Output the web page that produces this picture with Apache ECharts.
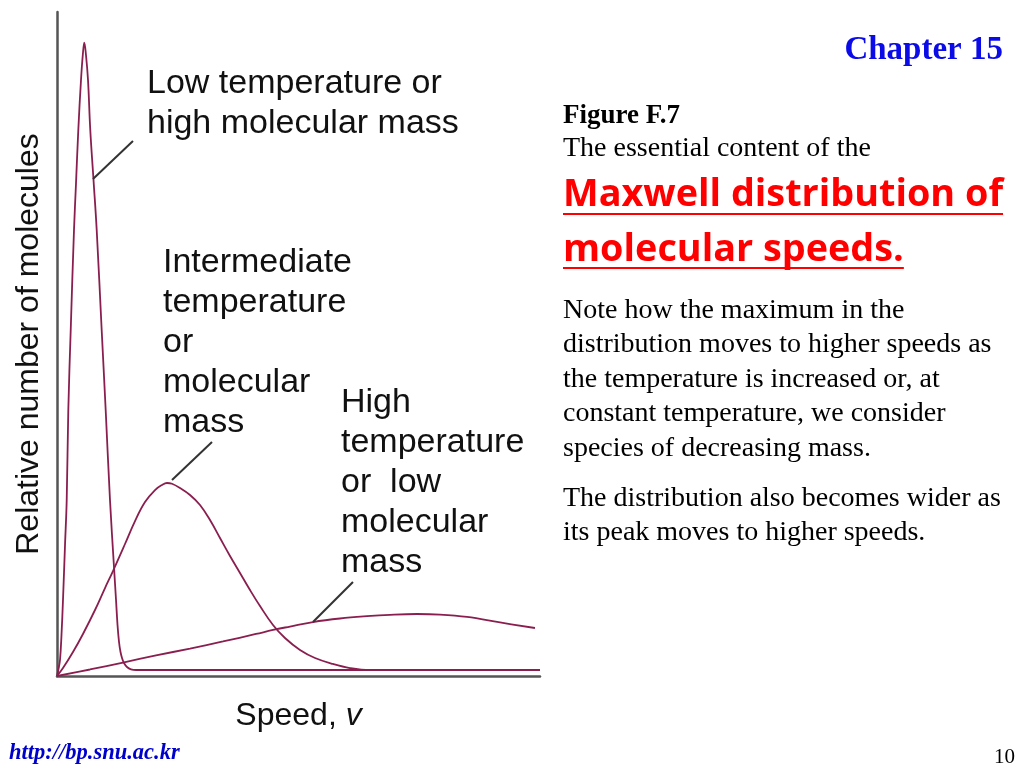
<!DOCTYPE html>
<html>
<head>
<meta charset="utf-8">
<script src="https://cdn.jsdelivr.net/npm/echarts@6/dist/echarts.min.js"></script>
<style>
html,body{margin:0;padding:0;background:#fff;}
#chart{width:1024px;height:768px;}
</style>
</head>
<body>
<div id="chart"></div>
<script>
// Speed (0-100 arbitrary units) vs relative number of molecules (0-100 arbitrary units)
const lowTempCurve = [
  [0,0],[0.31,1.05],[0.62,2.41],[0.93,6.17],[1.24,11.45],[1.66,19.73],[2.01,26.51],
  [2.34,40.06],[2.84,52.11],[3.52,67.17],[3.93,74.10],[4.41,82.23],[4.97,89.76],
  [5.34,93.52],[5.65,95.38],[6.00,93.52],[6.42,89.76],[6.89,82.23],[7.56,74.70],
  [8.22,67.17],[9.25,52.11],[10.08,40.06],[10.97,26.51],[11.80,16.42],[12.22,11.45],
  [12.53,7.68],[12.84,5.12],[13.15,3.61],[13.46,2.71],[13.87,1.96],[14.49,1.36],
  [15.32,1.01],[16.36,0.9],[23.40,0.9],[39.96,0.9],[100,0.9]
];
const midTempCurve = [
  [0,0],[1.24,1.20],[3.31,3.61],[5.38,6.33],[7.87,9.94],[9.94,13.25],[11.59,15.81],
  [14.08,19.88],[16.15,23.34],[18.22,26.20],[20.29,28.01],[21.74,28.77],[22.77,29.07],
  [23.81,28.95],[25.47,28.31],[27.54,27.26],[29.61,25.75],[31.68,23.49],[33.75,20.78],
  [35.82,18.07],[37.89,15.51],[39.96,12.95],[42.03,10.54],[44.72,7.68],[47.20,5.72],
  [50.31,3.92],[53.42,2.71],[57.14,1.81],[60.66,1.20],[64.80,0.9],[71.01,0.9],[100,0.9]
];
const highTempCurve = [
  [0,0],[6.83,0.98],[13.66,2.03],[20.50,3.09],[27.54,4.14],[34.37,5.20],[41.20,6.33],
  [44.72,6.93],[48.24,7.45],[53.00,8.13],[58.59,8.66],[64.18,9.01],[68.94,9.22],
  [74.53,9.34],[79.30,9.25],[84.89,8.89],[91.72,8.06],[98.96,7.23]
];
const lowLeader = [[7.45,74.85],[15.73,80.57]];
const midLeader = [[23.81,29.52],[32.09,35.24]];
const highLeader = [[53.0,8.13],[61.28,14.16]];

const lowLabel = ['Low temperature or','high molecular mass'];
const midLabel = ['Intermediate','temperature','or','molecular','mass'];
const highLabel = ['High','temperature','or  low','molecular','mass'];
const yAxisTitle = 'Relative number of molecules';
const chapterText = 'Chapter 15';
const figureTitle = 'Figure F.7';
const introText = 'The essential content of the';
const redTitle = ['Maxwell distribution of','molecular speeds.'];
const noteParagraph = ['Note how the maximum in the','distribution moves to higher speeds as','the temperature is increased or, at','constant temperature, we consider','species of decreasing mass.'];
const noteParagraph2 = ['The distribution also becomes wider as','its peak moves to higher speeds.'];
const footerUrl = 'http://bp.snu.ac.kr';
const pageNumber = '10';

const curveColor = '#8a1f4f';
const sansFont = '"Liberation Sans", Arial, sans-serif';
const serifFont = '"Liberation Serif", "Times New Roman", serif';
const redFamily = '"Open Sans", Lato, sans-serif';

function measure(text, font){
  const c = document.createElement('canvas').getContext('2d');
  c.font = font; return c.measureText(text).width;
}
// fit the red heading to the width it takes in the slide
const redSize = Math.min(40, 36 * 440 / measure(redTitle[0], 'bold 36px ' + redFamily));
const redFont = 'bold ' + redSize.toFixed(1) + 'px ' + redFamily;
const red1W = measure(redTitle[0], redFont);
const red2W = measure(redTitle[1], redFont);

function leader(pts){
  return {
    symbol:['none','none'], silent:true, animation:false,
    lineStyle:{color:'#333', width:2, type:'solid'},
    label:{show:false},
    data:[[{coord:pts[0]},{coord:pts[1]}]]
  };
}
function curve(name, data, lead){
  return {
    name, type:'line', data, smooth:0.4, showSymbol:false,
    lineStyle:{color:curveColor, width:1.8}, itemStyle:{color:curveColor},
    markLine: leader(lead)
  };
}

const chart = echarts.init(document.getElementById('chart'));
chart.setOption({
  animation:false,
  backgroundColor:'#fff',
  grid:{left:57, right:484, top:12, bottom:92},
  xAxis:{
    type:'value', min:0, max:100,
    axisLine:{show:true, lineStyle:{color:'#555', width:2.5}},
    axisTick:{show:false}, axisLabel:{show:false}, splitLine:{show:false},
    name:'{a|Speed, }{b|v}', nameLocation:'middle', nameGap:24,
    nameTextStyle:{
      rich:{
        a:{fontFamily:sansFont, fontSize:32, color:'#111'},
        b:{fontFamily:sansFont, fontSize:32, fontStyle:'italic', color:'#111'}
      }
    }
  },
  yAxis:{
    type:'value', min:0, max:100,
    axisLine:{show:true, lineStyle:{color:'#555', width:2.5}},
    axisTick:{show:false}, axisLabel:{show:false}, splitLine:{show:false},
    name:yAxisTitle, nameLocation:'middle', nameGap:12,
    nameTextStyle:{fontFamily:sansFont, fontSize:32, color:'#111'}
  },
  series:[
    curve('Low temperature', lowTempCurve, lowLeader),
    curve('Intermediate temperature', midTempCurve, midLeader),
    curve('High temperature', highTempCurve, highLeader)
  ],
  graphic:[
    {type:'text', x:147, y:64, style:{text:lowLabel.join('\n'), font:'34px '+sansFont, fill:'#111', lineHeight:40, verticalAlign:'top'}},
    {type:'text', x:163, y:243, style:{text:midLabel.join('\n'), font:'34px '+sansFont, fill:'#111', lineHeight:40, verticalAlign:'top'}},
    {type:'text', x:341, y:383, style:{text:highLabel.join('\n'), font:'34px '+sansFont, fill:'#111', lineHeight:40, verticalAlign:'top'}},
    {type:'text', x:1003, y:50, style:{text:chapterText, font:'bold 33px '+serifFont, fill:'#0b0be8', align:'right', verticalAlign:'middle'}},
    {type:'text', x:563, y:116, style:{text:figureTitle, font:'bold 27px '+serifFont, fill:'#000', verticalAlign:'middle'}},
    {type:'text', x:563, y:149, style:{text:introText, font:'28px '+serifFont, fill:'#000', verticalAlign:'middle'}},
    {type:'text', x:563, y:195, style:{text:redTitle[0], font:redFont, fill:'#ff0000', verticalAlign:'middle'}},
    {type:'text', x:563, y:250, style:{text:redTitle[1], font:redFont, fill:'#ff0000', verticalAlign:'middle'}},
    {type:'line', shape:{x1:563, y1:214, x2:563+red1W, y2:214}, style:{stroke:'#ff0000', lineWidth:2}},
    {type:'line', shape:{x1:563, y1:268, x2:563+red2W, y2:268}, style:{stroke:'#ff0000', lineWidth:2}},
    {type:'text', x:563, y:293, style:{text:noteParagraph.join('\n'), font:'28px '+serifFont, fill:'#000', lineHeight:34.5, verticalAlign:'top'}},
    {type:'text', x:563, y:481, style:{text:noteParagraph2.join('\n'), font:'28px '+serifFont, fill:'#000', lineHeight:34.5, verticalAlign:'top'}},
    {type:'text', x:9, y:753, style:{text:footerUrl, font:'italic bold 22.5px '+serifFont, fill:'#0000cc', verticalAlign:'middle'}},
    {type:'text', x:1015, y:757, style:{text:pageNumber, font:'21px '+serifFont, fill:'#000', align:'right', verticalAlign:'middle'}}
  ]
});
</script>
</body>
</html>
